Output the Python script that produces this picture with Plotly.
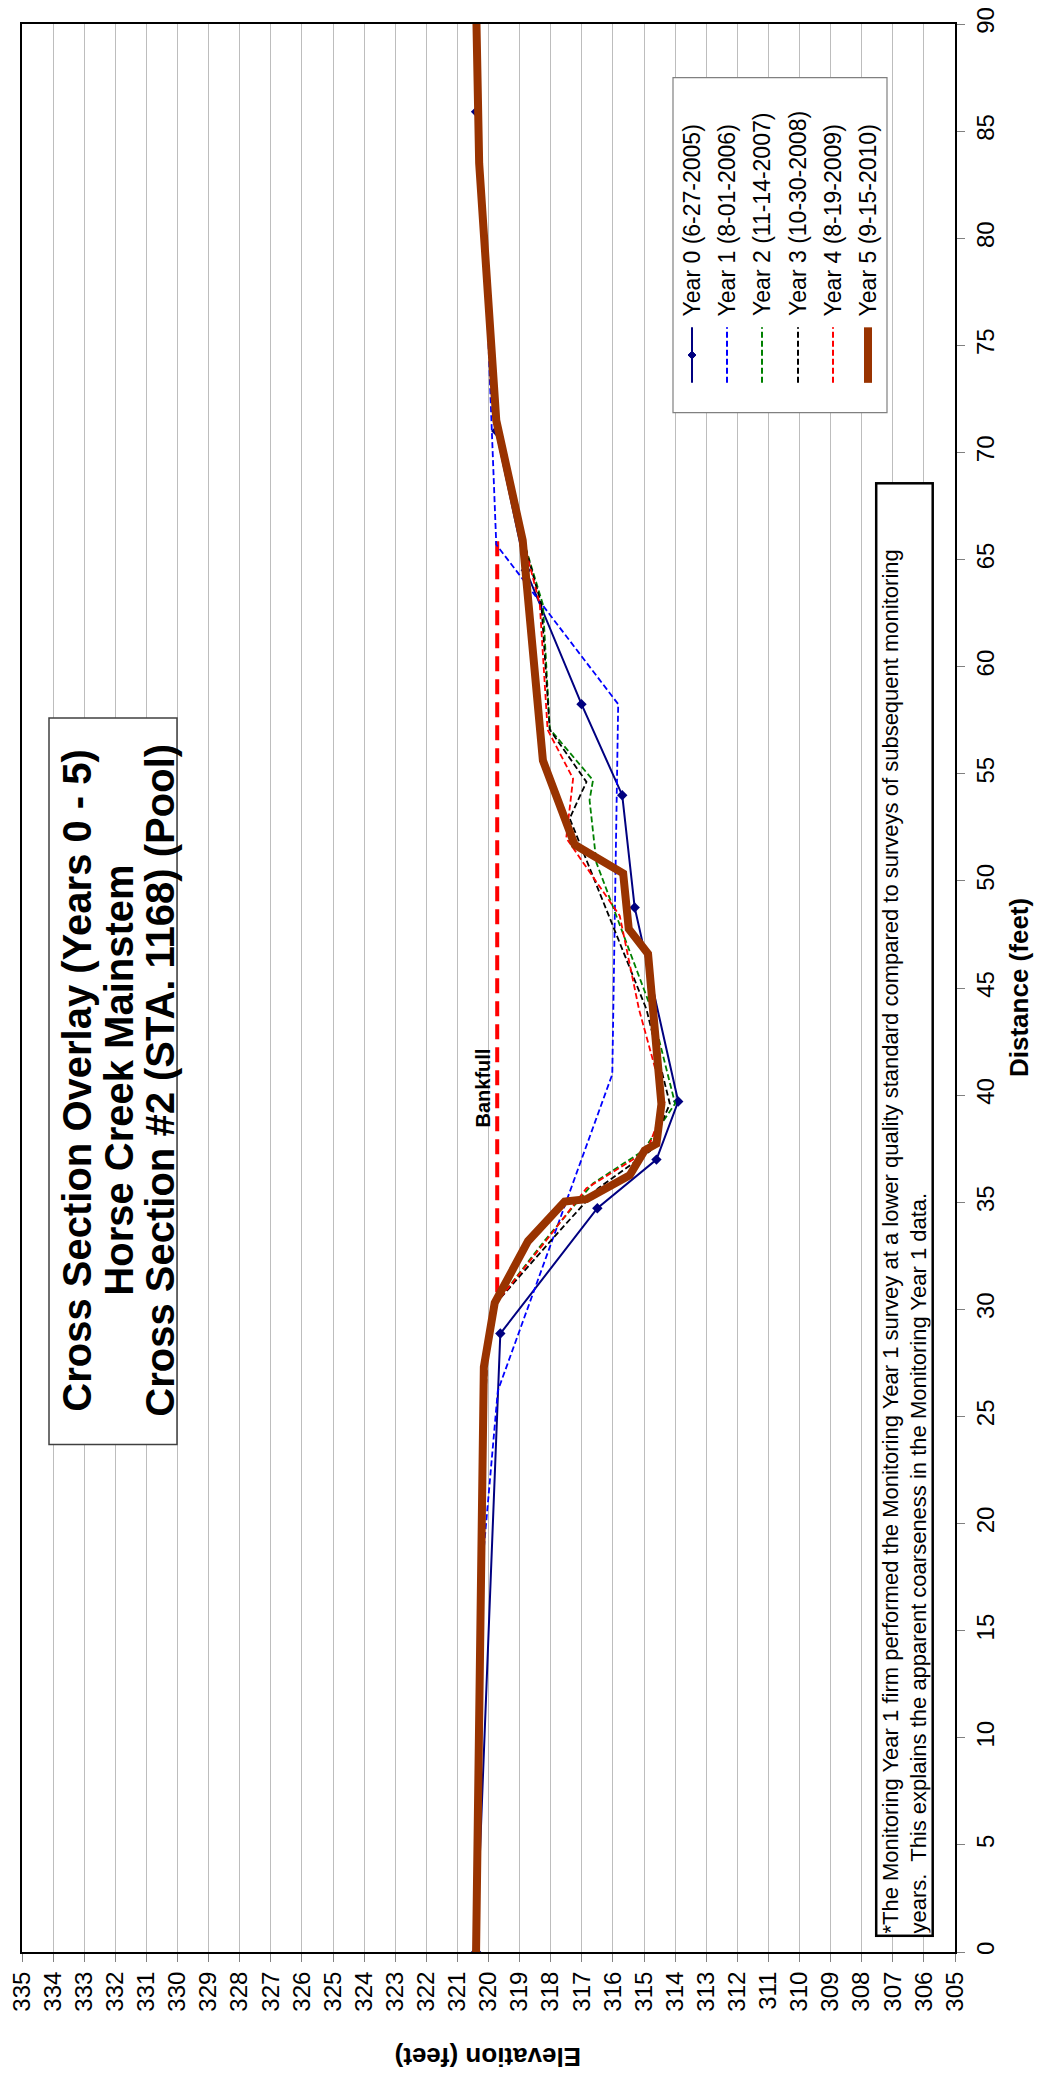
import plotly.graph_objects as go

# ---------------- data (distance ft, elevation ft) ----------------
y0_dist = [0, 28.87, 34.72, 36.99, 39.7, 48.76, 54.0, 58.25, 64.5, 71.0, 85.9, 91.0]
y0_elev = [320.4, 319.62, 316.5, 314.6, 313.9, 315.3, 315.7, 317.01, 318.8, 319.75, 320.4, 320.45]

y1_dist = [0, 18.0, 26.2, 40.97, 58.25, 65.7, 75.0, 91.0]
y1_elev = [320.35, 320.2, 319.7, 316.02, 315.83, 319.75, 320.0, 320.45]

y2_dist = [0, 14.0, 28.0, 30.3, 33.2, 35.88, 37.4, 39.6, 44.0, 50.85, 53.77, 54.7, 57.09, 62.9, 66.0, 72.0, 84.0, 91.0]
y2_elev = [320.4, 320.3, 320.05, 319.75, 318.2, 316.64, 315.03, 314.0, 314.76, 316.53, 316.75, 316.64, 318.03, 318.25, 318.9, 319.75, 320.3, 320.45]

y3_dist = [0, 14.0, 28.0, 30.3, 33.2, 35.65, 37.4, 39.6, 44.0, 52.92, 54.62, 57.06, 62.9, 66.0, 72.0, 84.0, 91.0]
y3_elev = [320.4, 320.3, 320.05, 319.75, 318.0, 316.48, 314.8, 314.17, 314.92, 317.39, 316.85, 318.03, 318.3, 318.9, 319.75, 320.3, 320.45]

y4_dist = [0, 14.0, 28.0, 30.3, 33.2, 35.65, 37.4, 39.6, 44.0, 48.37, 52.0, 54.77, 57.06, 62.9, 66.0, 72.0, 84.0, 91.0]
y4_elev = [320.4, 320.3, 320.05, 319.75, 318.15, 316.85, 314.9, 314.33, 315.16, 315.78, 317.5, 317.28, 318.1, 318.35, 318.9, 319.75, 320.3, 320.45]

y5_dist = [0, 13.5, 27.3, 30.3, 33.18, 35.03, 35.14, 36.26, 37.42, 37.73, 39.58, 46.6, 47.76, 50.35, 51.69, 55.62, 65.9, 71.5, 83.5, 91.0]
y5_elev = [320.4, 320.3, 320.15, 319.8, 318.73, 317.55, 316.85, 315.46, 314.98, 314.6, 314.44, 314.87, 315.49, 315.67, 317.23, 318.25, 318.9, 319.75, 320.3, 320.4]

bankfull_dist = [30.8, 66.0]
bankfull_elev = [319.72, 319.72]

series_names = ["Year 0 (6-27-2005)", "Year 1 (8-01-2006)", "Year 2 (11-14-2007)",
                "Year 3 (10-30-2008)", "Year 4 (8-19-2009)", "Year 5 (9-15-2010)"]
series_colors = ["#000080", "#0000FF", "#008000", "#000000", "#FF0000", "#993300"]

title_lines = ["Cross Section Overlay (Years 0 - 5)", "Horse Creek Mainstem",
               "Cross Section #2 (STA. 1168) (Pool)"]

elev_ticks = list(range(305, 336))
dist_ticks = list(range(0, 91, 5))

FONT = "Liberation Sans, Arial, sans-serif"

# ---------------- geometry of the rotated layout (pixels) ----------------
W, H = 1037, 2080
L, R, T, B = 22, 955, 7, 1952   # plot area


def px(xp):
    return (xp - L) / (R - L)


def py(yp):
    return (B - yp) / (B - T)


fig = go.Figure()

fig.add_trace(go.Scatter(x=bankfull_elev, y=bankfull_dist, mode="lines",
                         line=dict(color="#FF0000", width=4, dash="15px,8px"),
                         showlegend=False, hoverinfo="skip"))

data = [(y0_elev, y0_dist), (y1_elev, y1_dist), (y2_elev, y2_dist),
        (y3_elev, y3_dist), (y4_elev, y4_dist), (y5_elev, y5_dist)]
styles = [dict(width=2), dict(width=1.8, dash="6px,3px"), dict(width=1.8, dash="6px,3px"),
          dict(width=1.8, dash="6px,3px"), dict(width=1.8, dash="6px,3px"), dict(width=8)]

for i, ((ex, dy), st) in enumerate(zip(data, styles)):
    line = dict(color=series_colors[i], **st)
    if i == 0:
        fig.add_trace(go.Scatter(x=ex, y=dy, mode="lines+markers", name=series_names[i],
                                 line=line, marker=dict(symbol="diamond", size=8, color=series_colors[i]),
                                 showlegend=False))
    else:
        fig.add_trace(go.Scatter(x=ex, y=dy, mode="lines", name=series_names[i],
                                 line=line, showlegend=False))

annotations = []
shapes = []

# Bankfull label
annotations.append(dict(x=320.18, y=40.35, xref="x", yref="y", text="<b>Bankfull</b>",
                        textangle=-90, showarrow=False, font=dict(family=FONT, size=20, color="black")))

# Title box (rotated)
shapes.append(dict(type="rect", xref="paper", yref="paper", x0=px(49), x1=px(177), y0=py(1440), y1=py(707),
                   line=dict(color="#404040", width=1.5), fillcolor="white", layer="above"))
for cx, txt in zip([77, 119, 160], title_lines):
    annotations.append(dict(x=px(cx), y=py(1073), xref="paper", yref="paper", text=f"<b>{txt}</b>",
                            textangle=-90, showarrow=False, xanchor="center", yanchor="middle",
                            font=dict(family=FONT, size=40, color="black")))

# Footnote box
annotations.append(dict(x=px(904.5), y=py(1203), xref="paper", yref="paper",
                        text="*The Monitoring Year 1 firm performed the Monitoring Year 1 survey at a lower quality standard compared to surveys of subsequent monitoring<br>years.  This explains the apparent coarseness in the Monitoring Year 1 data.",
                        textangle=-90, showarrow=False, align="left", width=1448, height=52,
                        font=dict(family=FONT, size=22, color="black"),
                        bgcolor="white", bordercolor="black", borderwidth=2.5, borderpad=1,
                        xanchor="center", yanchor="middle"))

# Axis titles
annotations.append(dict(x=px(488), y=py(2058), xref="paper", yref="paper", text="<b>Elevation (feet)</b>",
                        textangle=180, showarrow=False, font=dict(family=FONT, size=26, color="black"),
                        xanchor="center", yanchor="middle"))
annotations.append(dict(x=px(1019), y=0.5, xref="paper", yref="paper", text="<b>Distance (feet)</b>",
                        textangle=-90, showarrow=False, font=dict(family=FONT, size=26, color="black"),
                        xanchor="center", yanchor="middle"))

# Legend (rotated)
shapes.append(dict(type="rect", xref="paper", yref="paper", x0=px(673), x1=px(887), y0=py(399), y1=py(61),
                   line=dict(color="#808080", width=1.2), fillcolor="white", layer="above"))
col_x = [692, 727, 762, 798, 833, 868]
leg_dash = ["solid", "6px,3px", "6px,3px", "6px,3px", "6px,3px", "solid"]
leg_w = [2, 2, 2, 2, 2, 8]
for i, cx in enumerate(col_x):
    shapes.append(dict(type="line", xref="paper", yref="paper", x0=px(cx), x1=px(cx), y0=py(369), y1=py(313),
                       line=dict(color=series_colors[i], width=leg_w[i], dash=leg_dash[i]), layer="above"))
    annotations.append(dict(x=px(cx), y=py(304), xref="paper", yref="paper", text=series_names[i],
                            textangle=-90, showarrow=False, xanchor="center", yanchor="bottom",
                            font=dict(family=FONT, size=23, color="black")))
# year 0 legend marker
shapes.append(dict(type="path", xref="paper", yref="paper",
                   path=f"M {px(692)} {py(337)} L {px(696)} {py(341)} L {px(692)} {py(345)} L {px(688)} {py(341)} Z",
                   fillcolor="#000080", line=dict(color="#000080", width=1), layer="above"))

fig.update_layout(
    width=W, height=H,
    margin=dict(l=L, r=W - R, t=T, b=H - B),
    paper_bgcolor="white", plot_bgcolor="white",
    font=dict(family=FONT, size=24, color="black"),
    showlegend=False,
    xaxis=dict(range=[335, 305], tickvals=elev_ticks, ticktext=[str(v) for v in elev_ticks],
               tickangle=-90, ticks="outside", ticklen=8, tickcolor="#808080",
               showgrid=True, gridcolor="#bdbdbd", gridwidth=1,
               showline=True, linecolor="black", linewidth=2, mirror=True, zeroline=False,
               ticklabeloverflow="allow",
               tickfont=dict(family=FONT, size=24, color="black")),
    yaxis=dict(range=[0, 90], tickvals=dist_ticks, side="right",
               tickangle=-90, ticks="outside", ticklen=8, tickcolor="#808080",
               showgrid=False, showline=True, linecolor="black", linewidth=2, mirror=True, zeroline=False,
               ticklabeloverflow="allow",
               tickfont=dict(family=FONT, size=24, color="black")),
    annotations=annotations, shapes=shapes,
)

fig.write_html("out.html")
